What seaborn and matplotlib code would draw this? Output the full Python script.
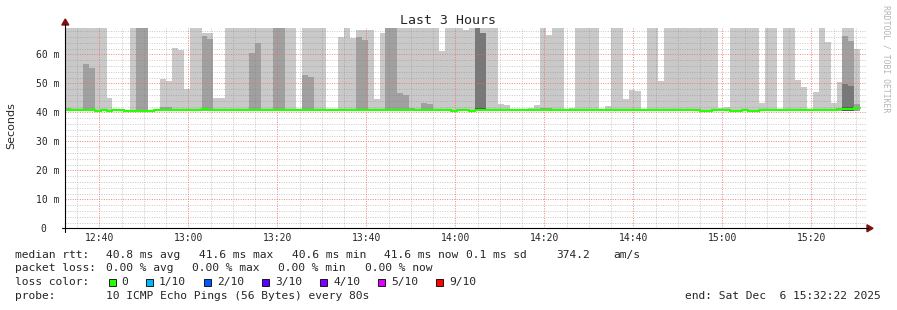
import numpy as np
import pandas as pd
import matplotlib
matplotlib.use("Agg")
import matplotlib.pyplot as plt
import seaborn as sns
from matplotlib.ticker import MultipleLocator, FixedLocator, FixedFormatter
from matplotlib.patches import Rectangle, Polygon
from matplotlib.lines import Line2D

# ---------------- data ----------------
T = 80.0    # ping above the graph top (clipped)
W = None    # no smoke above the median
# top of the outermost (light) smoke band, one per 80 s step, in ms
light_top = [
    T, T, T, T, T, T, T, 44.9, W, W,
    W, T, T, T, W, W, 51.5, 50.8, 62.2, 61.5,
    48.0, T, T, 67.3, 67.3, 44.9, 44.9, T, T, T,
    T, T, T, T, T, T, T, T, T, W,
    T, T, T, T, W, W, 66.1, T, 65.7, 68.3,
    68.3, 68.3, 44.6, 67.3, T, T, T, T, T, T,
    T, T, T, 61.2, T, T, T, 68.4, T, T,
    T, T, T, 42.8, 42.4, W, W, W, 41.5, 42.4,
    T, 66.7, T, T, W, 41.5, T, T, T, T,
    W, 42.2, T, T, 44.6, 47.7, 47.3, W, T, T,
    50.8, T, T, T, T, T, T, T, T, T,
    41.6, 41.9, T, T, T, T, T, 43.3, T, T,
    W, T, T, 51.1, 48.6, W, 47.1, T, 64.2, 43.3,
    50.6, T, T, 61.9,
]
# second band (medium grey)
medium_top = {0: 41.4, 3: 56.8, 4: 55.4, 12: T, 13: T, 16: 41.7, 17: 41.7,
              23: 66.3, 24: 65.2, 31: 60.3, 32: 64.0, 35: T, 36: T,
              40: 52.8, 41: 52.2, 49: 66.0, 50: 64.9, 54: T, 55: T,
              56: 46.7, 57: 46.0, 58: 41.6, 60: 43.2, 61: 42.8, 69: T,
              70: 67.4, 80: 41.5, 81: 41.5, 130: 41.5, 131: 66.3,
              132: 64.6, 133: 42.9}
# third band (dark grey)
dark_top = {69: T, 70: 67.4, 131: 49.8, 132: 49.1}
# fourth band (darkest grey)
darker_top = {69: 41.6, 70: 41.6, 131: 42.0, 132: 42.0}
# median rtt per step
median_vals = [
    40.8, 40.8, 40.8, 40.8, 40.8, 40.4, 40.8, 40.4, 40.8, 40.8,
    40.4, 40.4, 40.4, 40.4, 40.4, 40.8, 40.8, 40.8, 40.8, 40.8,
    40.8, 40.8, 40.8, 41.3, 40.8, 40.8, 40.8, 40.8, 40.8, 40.8,
    40.8, 40.8, 40.8, 40.8, 40.8, 40.8, 40.8, 40.8, 40.8, 40.8,
    40.8, 40.8, 40.8, 40.8, 40.8, 40.8, 40.8, 40.8, 40.8, 40.8,
    40.8, 40.8, 40.8, 40.8, 40.8, 40.8, 40.8, 40.8, 40.8, 40.8,
    40.8, 40.8, 40.8, 40.8, 40.8, 40.4, 40.8, 40.8, 40.4, 40.8,
    40.8, 40.8, 40.8, 40.8, 40.8, 40.8, 40.8, 40.8, 40.8, 40.8,
    40.8, 40.8, 40.8, 40.8, 40.8, 40.8, 40.8, 40.8, 40.8, 40.8,
    40.8, 40.8, 40.8, 40.8, 40.8, 40.8, 40.8, 40.8, 40.8, 40.8,
    40.8, 40.8, 40.8, 40.8, 40.8, 40.8, 40.8, 40.4, 40.4, 40.8,
    40.8, 40.8, 40.4, 40.4, 40.8, 40.4, 40.4, 40.8, 40.8, 40.8,
    40.8, 40.8, 40.8, 40.8, 40.8, 40.8, 40.8, 40.8, 40.8, 40.8,
    41.1, 41.3, 41.0, 41.6,
]
smoke_floor = 40.5

x_tick_labels = ["12:40", "13:00", "13:20", "13:40", "14:00",
                 "14:20", "14:40", "15:00", "15:20"]
y_tick_values = [0, 10, 20, 30, 40, 50, 60]
y_tick_labels = ["0  ", "10 m", "20 m", "30 m", "40 m", "50 m", "60 m"]

loss_labels = ["0", "1/10", "2/10", "3/10", "4/10", "5/10", "9/10"]
loss_colors = ["#26ff00", "#00b8ff", "#0059ff", "#5e00ff",
               "#7e00ff", "#dd00ff", "#ff0000"]

# time axis (minutes since midnight)
view_start = 12 * 60 + 32 + 22 / 60
view_end = 15 * 60 + 32 + 22 / 60
first_step = 752.30
step_min = 80 / 60

# ---------------- figure ----------------
sns.set_style("white")
plt.rcParams["font.family"] = ["DejaVu Sans Mono", "DejaVu Sans"]

W_PX, H_PX = 897, 310
fig = plt.figure(figsize=(W_PX / 100, H_PX / 100), dpi=100)
fig.patch.set_facecolor("white")

def fx(px):
    return px / W_PX

def fy(py):
    return 1 - py / H_PX

ax_l, ax_r, ax_t, ax_b = 65.3, 866.5, 28.0, 228.3
ax = fig.add_axes([fx(ax_l), fy(ax_b), fx(ax_r) - fx(ax_l), (ax_b - ax_t) / H_PX])
ax.set_facecolor("white")

n = len(light_top)
t_left = first_step + np.arange(n) * step_min

def draw_band(values, color, z):
    xs, hs = [], []
    for i, v in values:
        if v is None:
            continue
        xs.append(t_left[i])
        hs.append(v - smoke_floor)
    ax.bar(xs, hs, bottom=smoke_floor, width=step_min, align="edge",
           color=color, linewidth=0, zorder=z)

draw_band(list(enumerate(light_top)), "#c9c9c9", 1.0)
draw_band(sorted(medium_top.items()), "#a0a0a0", 1.1)
draw_band(sorted(dark_top.items()), "#787878", 1.2)
draw_band(sorted(darker_top.items()), "#505050", 1.3)

# median line
t_edges = np.append(t_left, t_left[-1] + step_min)
med_df = pd.DataFrame({"t": t_edges, "ms": median_vals + [median_vals[-1]]})
sns.lineplot(data=med_df, x="t", y="ms", ax=ax, color="#26ff00",
             linewidth=1.6, drawstyle="steps-post", estimator=None,
             zorder=3, legend=False)

ax.set_xlim(view_start, view_end)
ax.set_ylim(0, (ax_b - ax_t) / 2.9)

def to_min(s):
    h, m = s.split(":")
    return int(h) * 60 + int(m)

ax.xaxis.set_major_locator(FixedLocator([to_min(s) for s in x_tick_labels]))
ax.xaxis.set_major_formatter(FixedFormatter(x_tick_labels))
ax.xaxis.set_minor_locator(MultipleLocator(5))
ax.yaxis.set_major_locator(FixedLocator(y_tick_values))
ax.yaxis.set_major_formatter(FixedFormatter(y_tick_labels))
ax.yaxis.set_minor_locator(MultipleLocator(2))

ax.set_axisbelow(False)
ax.grid(which="minor", color="#7f7f7f", alpha=0.4, linestyle=(0, (1, 1.4)),
        linewidth=0.72)
ax.grid(which="major", color="#f56a6a", alpha=0.8, linestyle=(0, (1, 1.4)),
        linewidth=0.72)

ax.tick_params(axis="y", which="major", length=3, width=0.72, color="black",
               pad=1.5, labelsize=7)
ax.tick_params(axis="y", which="minor", length=1.5, width=0.72, color="black")
ax.tick_params(axis="x", which="both", length=0, pad=3.2, labelsize=7)
for sp in ax.spines.values():
    sp.set_visible(False)
ax.set_xlabel("")
ax.set_ylabel("")

# axis lines with arrows
fig.add_artist(Line2D([fx(62), fx(868)], [fy(ax_b), fy(ax_b)], color="black", lw=0.8))
fig.add_artist(Line2D([fx(ax_l), fx(ax_l)], [fy(232), fy(24)], color="black", lw=0.8))
fig.add_artist(Polygon([[fx(ax_l - 3.5), fy(25)], [fx(ax_l + 3.5), fy(25)], [fx(ax_l), fy(19)]],
                       closed=True, color="#7f1010", transform=fig.transFigure))
fig.add_artist(Polygon([[fx(867), fy(ax_b - 3.5)], [fx(867), fy(ax_b + 3.5)], [fx(873), fy(ax_b)]],
                       closed=True, color="#7f1010", transform=fig.transFigure))

# titles
fig.text(fx(448), fy(20), "Last 3 Hours", ha="center", va="center", fontsize=9.5)
fig.text(fx(11), fy(126), "Seconds", ha="center", va="center", rotation=90,
         fontsize=8, family="DejaVu Sans")
fig.text(fx(886), fy(59), "RRDTOOL / TOBI OETIKER", ha="center", va="center",
         rotation=270, fontsize=5.9, color="#b4b4b4")

# legend text
LFS = 8.1
rows = [
    (254.7, [("median rtt:", 16), ("40.8 ms avg", 107), ("41.6 ms max", 200),
             ("40.6 ms min", 293), ("41.6 ms now", 385), ("0.1 ms sd", 467),
             ("374.2", 557), ("am/s", 614)]),
    (268.3, [("packet loss:", 16), ("0.00 % avg", 107), ("0.00 % max", 193),
             ("0.00 % min", 279), ("0.00 % now", 366)]),
    (296.0, [("probe:", 16), ("10 ICMP Echo Pings (56 Bytes) every 80s", 107)]),
]
for yy, segs in rows:
    for txt, xx in segs:
        fig.text(fx(xx - 1), fy(yy), txt, ha="left", va="center", fontsize=LFS)
fig.text(fx(881), fy(296.0), "end: Sat Dec  6 15:32:22 2025", ha="right",
         va="center", fontsize=LFS)

fig.text(fx(15), fy(282.3), "loss color:", ha="left", va="center", fontsize=LFS)
sq_x = [109, 146, 204, 262, 320, 378, 436]
lab_x = [122, 160, 218, 276, 334, 392, 450]
for lab, col, sx, lx in zip(loss_labels, loss_colors, sq_x, lab_x):
    fig.add_artist(Rectangle((fx(sx), fy(286)), 7 / W_PX, 7 / H_PX,
                             facecolor=col, edgecolor="black", linewidth=0.6,
                             transform=fig.transFigure))
    fig.text(fx(lx - 1), fy(282.3), lab, ha="left", va="center", fontsize=LFS)

fig.savefig("out.png", dpi=100, facecolor="white")
